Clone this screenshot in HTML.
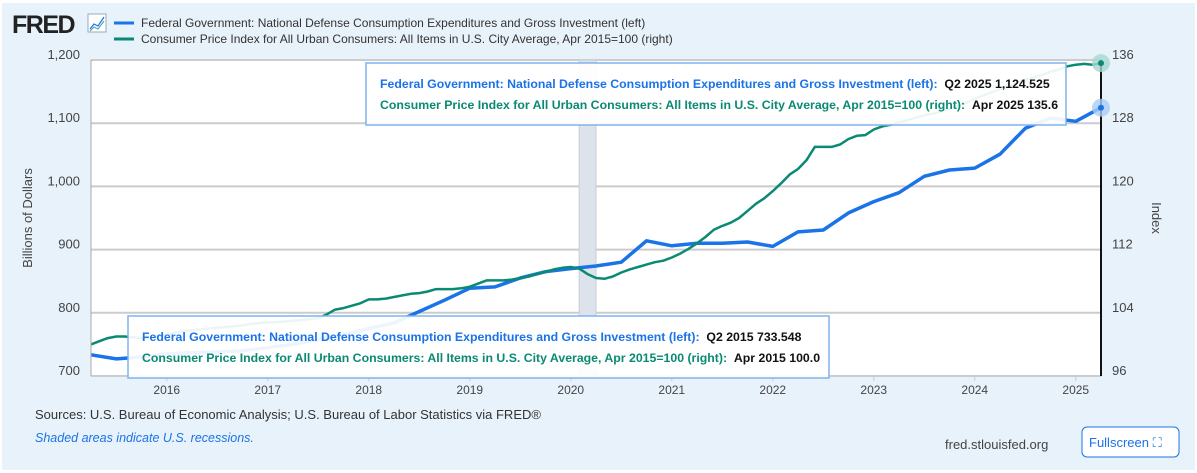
<!DOCTYPE html>
<html><head><meta charset="utf-8"><style>
body{margin:0;width:1197px;height:473px;background:#fff;font-family:"Liberation Sans",sans-serif;overflow:hidden}
#wrap{position:absolute;left:2px;top:3px;width:1193px;height:467px;background:#e8f2fb}
svg text{font-family:"Liberation Sans",sans-serif}
</style></head><body>
<div id="wrap"></div>
<svg id="c" width="1197" height="473" style="position:absolute;left:0;top:0">
<text x="12" y="33" font-size="25" font-weight="bold" fill="#222" letter-spacing="-1.5">FRED</text>
<g><rect x="88" y="14" width="18" height="18" fill="#fff" stroke="#9ab"/><polyline points="90,29 94,24 98,26 104,17" fill="none" stroke="#1a73e8" stroke-width="1.2"/><polyline points="90,31 94,27 98,29 104,21" fill="none" stroke="#5ab" stroke-width="1.2"/></g>
<line x1="114" y1="23" x2="134" y2="23" stroke="#1a73e8" stroke-width="3"/>
<text x="141" y="27" font-size="12" fill="#333">Federal Government: National Defense Consumption Expenditures and Gross Investment (left)</text>
<line x1="114" y1="39" x2="134" y2="39" stroke="#0a8a72" stroke-width="3"/>
<text x="141" y="43" font-size="12" fill="#333">Consumer Price Index for All Urban Consumers: All Items in U.S. City Average, Apr 2015=100 (right)</text>
<rect x="91" y="60" width="1010" height="316" fill="#fff"/>
<g id="grid"></g>
<g id="rec"></g>
<g id="series"></g>
<g id="axes"></g>
<text transform="translate(32,218) rotate(-90)" font-size="13" fill="#444" text-anchor="middle">Billions of Dollars</text>
<text transform="translate(1152,218) rotate(90)" font-size="13" fill="#444" text-anchor="middle">Index</text>
<g id="tips"></g>
<text x="35" y="419" font-size="13" fill="#333">Sources: U.S. Bureau of Economic Analysis; U.S. Bureau of Labor Statistics via FRED®</text>
<text x="35" y="442" font-size="12.5" font-style="italic" fill="#1a73e8">Shaded areas indicate U.S. recessions.</text>
<text x="945" y="449" font-size="13" fill="#444">fred.stlouisfed.org</text>
<g><rect x="1082" y="427" width="97" height="30" rx="5" fill="#fff" stroke="#1a73e8"/><text x="1089" y="447" font-size="13" fill="#1a73e8">Fullscreen ⛶</text></g>
</svg>
<script>
const leftTicks=[700,800,900,1000,1100,1200];
const leftTickLabels=["700","800","900","1,000","1,100","1,200"];
const rightTicks=[96,104,112,120,128,136];
const xYears=[2016,2017,2018,2019,2020,2021,2022,2023,2024,2025];
const recession=[2020.083,2020.25];
const defenseValues=[733.5,727,730,735,737,738,740,745,750,758,765,775,784,802,820,839,841,855,865,870,874,880,914,906,910,910,912,905,928,931,958,976,990,1016,1026,1029,1051,1092,1108,1103,1124.5];
const cpiValues=[100.0,100.4,100.8,101.0,101.0,100.9,100.8,100.9,101.1,101.3,101.5,101.7,101.8,101.9,102.0,102.1,102.2,102.3,102.4,102.6,102.7,102.8,102.8,102.9,103.0,103.1,103.2,103.3,103.8,104.4,104.6,104.9,105.2,105.7,105.7,105.8,106.0,106.2,106.4,106.5,106.7,107.0,107.0,107.0,107.1,107.3,107.7,108.1,108.1,108.1,108.2,108.4,108.6,108.9,109.2,109.5,109.7,109.8,109.6,108.9,108.4,108.3,108.6,109.1,109.5,109.8,110.1,110.4,110.6,111.0,111.5,112.1,112.8,113.6,114.5,115.0,115.4,116.0,116.9,117.8,118.5,119.4,120.4,121.5,122.2,123.3,125.0,125.0,125.0,125.3,126.0,126.4,126.5,127.2,127.6,127.8,128.1,128.4,128.7,129.0,129.2,129.5,129.8,130.2,130.6,131.1,131.5,131.9,132.3,132.7,133.1,133.5,133.8,134.1,134.5,134.8,135.2,135.4,135.5,135.4,135.6];
const X0=91,X1=1101,Y0=376,Y1=60,T0=2015.25,T1=2025.25;
const xs=t=>X0+(t-T0)/(T1-T0)*(X1-X0);
const yl=v=>Y0-(v-700)/500*(Y0-Y1);
const yr=v=>Y0-(v-96)/40*(Y0-Y1);
const NS="http://www.w3.org/2000/svg";
function mk(tag,parent,attrs){const e=document.createElementNS(NS,tag);for(const k in attrs)e.setAttribute(k,attrs[k]);document.getElementById(parent).appendChild(e);return e;}
leftTicks.forEach((v,i)=>{
 const l=mk('line','grid',{x1:X0,x2:X1,y1:yl(v),y2:yl(v),stroke:'#ccc','stroke-width':2});
 
 
 const t=mk('text','axes',{x:80,y:yl(v)-1,'font-size':13,fill:'#444','text-anchor':'end'});
 t.textContent=leftTickLabels[i];
 
 
});
rightTicks.forEach(v=>{
 const t=mk('text','axes',{x:1112,y:yr(v)-1,'font-size':13,fill:'#444'});
 t.textContent=v;
 
 
});
xYears.forEach(y=>{
 const tk=mk('line','axes',{x1:xs(y),x2:xs(y),y1:Y0,y2:Y0+5,stroke:'#ccc'});
 
 
 const t=mk('text','axes',{x:xs(y),y:Y0+18,'font-size':12,fill:'#444','text-anchor':'middle'});
 t.textContent=y;
 
 
});
const ax=mk('line','axes',{x1:X0,x2:X0,y1:Y1,y2:Y0,stroke:'#aaa'});


const r=mk('rect','rec',{x:xs(recession[0]),y:Y1,width:xs(recession[1])-xs(recession[0]),height:Y0-Y1,fill:'#dde3ea',stroke:'#c8ced6'});


const pb=defenseValues.map((v,i)=>xs(T0+i*0.25).toFixed(1)+','+yl(v).toFixed(1)).join(' ');
const lb=mk('polyline','series',{points:pb,fill:'none',stroke:'#1a73e8','stroke-width':3.5,'stroke-linejoin':'round'});


const pc=cpiValues.map((v,i)=>xs(T0+i/12).toFixed(1)+','+yr(v).toFixed(1)).join(' ');
const lc=mk('polyline','series',{points:pc,fill:'none',stroke:'#0a8a72','stroke-width':2.5,'stroke-linejoin':'round'});


const cross=mk('line','series',{x1:X1,x2:X1,y1:Y1,y2:Y0,stroke:'#111','stroke-width':2});


const lastB=defenseValues[defenseValues.length-1],lastC=cpiValues[cpiValues.length-1];
[[yl(lastB),'#1a73e8','#a9cdf5'],[yr(lastC),'#0a8a72','#a6d6cf']].forEach(([y,c,h])=>{
 const a=mk('circle','series',{cx:X1,cy:y,r:9,fill:h,opacity:0.8});
 
 
 const b=mk('circle','series',{cx:X1,cy:y,r:3,fill:c});
 
 
});
function tip(x,y,w,l1,v1,l2,v2,name){
 const g=mk('g','tips',{});
 
 
 const bx=document.createElementNS(NS,'rect');
 [['x',x],['y',y],['width',w],['height',62],['fill','rgba(255,255,255,0.92)'],['stroke','#7fb3ee'],['stroke-width',1.5]].forEach(a=>bx.setAttribute(a[0],a[1]));
 g.appendChild(bx);
 [[l1,v1,'#1a73e8',y+25],[l2,v2,'#0a8a72',y+46]].forEach(([l,v,c,ty])=>{
  const t=document.createElementNS(NS,'text');
  t.setAttribute('x',x+14);t.setAttribute('y',ty);t.setAttribute('font-size',12.3);t.setAttribute('font-weight','bold');t.setAttribute('fill',c);
  t.setAttribute('xml:space','preserve');
  t.textContent=l+'\u00a0\u00a0';
  const s=document.createElementNS(NS,'tspan');s.setAttribute('fill','#111');s.textContent=v;t.appendChild(s);
  g.appendChild(t);
 });
}
tip(366,63,700,'Federal Government: National Defense Consumption Expenditures and Gross Investment (left):','Q2 2025 1,124.525','Consumer Price Index for All Urban Consumers: All Items in U.S. City Average, Apr 2015=100 (right):','Apr 2025 135.6','tooltip-end');
tip(128,316,701,'Federal Government: National Defense Consumption Expenditures and Gross Investment (left):','Q2 2015 733.548','Consumer Price Index for All Urban Consumers: All Items in U.S. City Average, Apr 2015=100 (right):','Apr 2015 100.0','tooltip-start');
</script>
</body></html>
